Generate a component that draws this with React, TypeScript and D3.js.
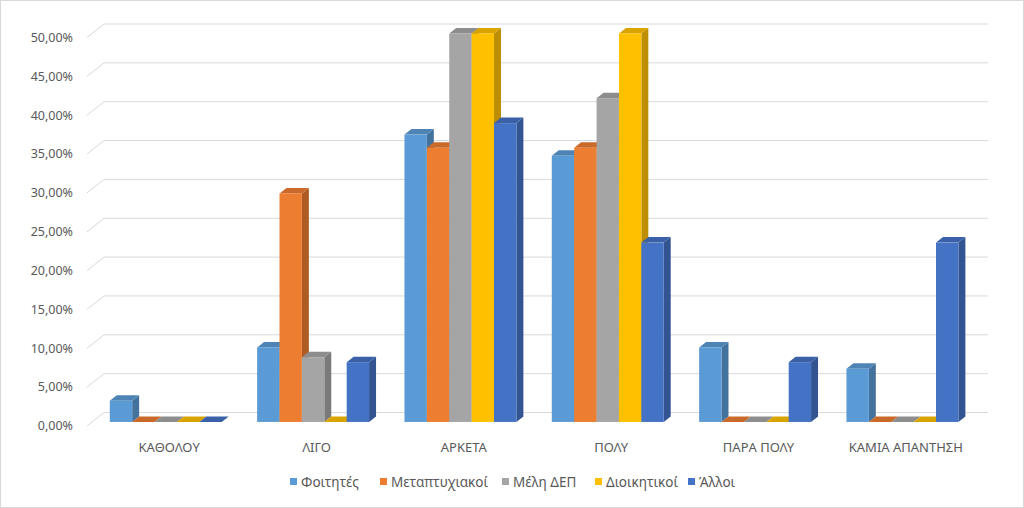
import React from "react";
import * as d3 from "d3";

const categories = ["ΚΑΘΟΛΟΥ", "ΛΙΓΟ", "ΑΡΚΕΤΑ", "ΠΟΛΥ", "ΠΑΡΑ ΠΟΛΥ", "ΚΑΜΙΑ ΑΠΑΝΤΗΣΗ"];
const seriesNames = ["Φοιτητές", "Μεταπτυχιακοί", "Μέλη ΔΕΠ", "Διοικητικοί", "Άλλοι"];
const seriesColors = ["#5B9BD5", "#ED7D31", "#A5A5A5", "#FFC000", "#4472C4"];
const foititesValues = [0.0274, 0.0959, 0.3699, 0.3425, 0.0959, 0.0685];
const metaptyxiakoiValues = [0, 0.2941, 0.3529, 0.3529, 0, 0];
const melhDepValues = [0, 0.0833, 0.5, 0.4167, 0, 0];
const dioikitikoiValues = [0, 0, 0.5, 0.5, 0, 0];
const alloiValues = [0, 0.0769, 0.3846, 0.2308, 0.0769, 0.2308];
const seriesValues = [foititesValues, metaptyxiakoiValues, melhDepValues, dioikitikoiValues, alloiValues];
const yTicks = [0, 0.05, 0.1, 0.15, 0.2, 0.25, 0.3, 0.35, 0.4, 0.45, 0.5];
const legendX = [290, 380, 502, 595, 688];

const W = 1024;
const H = 508;
const X0 = 87;
const Y0 = 426;
const DX = 17;
const DY = -13.5;
const F1 = 0.3;
const F2 = 0.71;
const FONT = "'Noto Sans', sans-serif";

export default function App() {
  const x = d3.scaleBand<string>().domain(categories).range([0, 884]).paddingInner(0).paddingOuter(0);
  const xInner = d3
    .scaleBand<string>()
    .domain(seriesNames)
    .range([0, x.bandwidth()])
    .paddingInner(0)
    .paddingOuter(0.79);
  const h = d3.scaleLinear().domain([0, 0.5]).range([0, 388.5]);
  const P = (px: number, ph: number, f: number): [number, number] => [X0 + px + f * DX, Y0 - ph + f * DY];
  const poly = (pts: [number, number][]) => pts.map((p) => p.join(",")).join(" ");
  const fmt = (v: number) => (v * 100).toFixed(2).replace(".", ",") + "%";
  const width = 884;

  const bars: JSX.Element[] = [];
  categories.forEach((c, ci) => {
    seriesNames.forEach((s, si) => {
      const v = seriesValues[si][ci];
      const x0 = (x(c) as number) + (xInner(s) as number);
      const x1 = x0 + xInner.bandwidth();
      const hv = h(v);
      const base = d3.color(seriesColors[si])!;
      const top = base.darker(0.45).formatHex();
      const side = base.darker(0.85).formatHex();
      const key = `${ci}-${si}`;
      bars.push(
        <g key={key}>
          <polygon points={poly([P(x1, 0, F1), P(x1, 0, F2), P(x1, hv, F2), P(x1, hv, F1)])} fill={side} />
          <polygon points={poly([P(x0, hv, F1), P(x1, hv, F1), P(x1, hv, F2), P(x0, hv, F2)])} fill={top} />
          {v > 0 && <rect x={P(x0, 0, F1)[0]} y={P(x0, hv, F1)[1]} width={x1 - x0} height={hv} fill={seriesColors[si]} />}
        </g>
      );
    });
  });

  return (
    <div style={{ position: "fixed", left: 0, top: 0, width: W, height: H, background: "#fff" }}>
      <svg width={W} height={H} style={{ display: "block" }}>
        <rect x={0.5} y={0.5} width={W - 1} height={H - 1} fill="#fff" stroke="#d9d9d9" />
        {yTicks.map((t) => {
          const a = P(0, h(t), 0);
          const b = P(0, h(t), 1);
          const e = P(width, h(t), 1);
          return (
            <g key={t}>
              <line x1={a[0]} y1={a[1]} x2={b[0]} y2={b[1]} stroke="#d9d9d9" strokeWidth={1} />
              <line x1={b[0]} y1={b[1]} x2={e[0]} y2={e[1]} stroke="#d9d9d9" strokeWidth={1} />
              <text
                x={73}
                y={a[1] + 1}
                textAnchor="end"
                dominantBaseline="middle"
                fontFamily={FONT}
                fontSize={12.5}
                fill="#595959"
              >
                {fmt(t)}
              </text>
            </g>
          );
        })}
        {bars}
        {categories.map((c) => {
          const [cx] = P((x(c) as number) + x.bandwidth() / 2, 0, 0.5);
          return (
            <text key={c} x={cx} y={452} textAnchor="middle" fontFamily={FONT} fontSize={13} fill="#595959">
              {c}
            </text>
          );
        })}
        {seriesNames.map((s, i) => (
          <g key={s}>
            <rect x={legendX[i]} y={478} width={7} height={7} fill={seriesColors[i]} />
            <text x={legendX[i] + 11} y={487} fontFamily={FONT} fontSize={13.5} fill="#595959">
              {s}
            </text>
          </g>
        ))}
      </svg>
    </div>
  );
}
